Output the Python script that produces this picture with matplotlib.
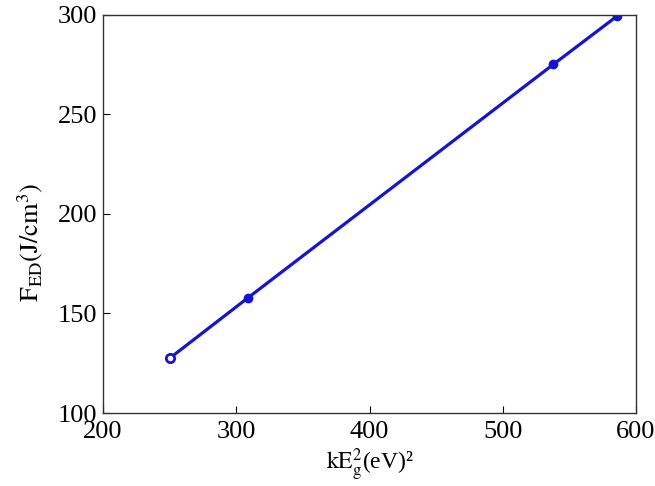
import matplotlib
matplotlib.use("Agg")
import matplotlib.pyplot as plt

# data
keg2 = [250, 309, 538, 585.5]
fed = [127.5, 158, 275.2, 299.3]

plt.rcParams["font.family"] = "Liberation Serif"
plt.rcParams["mathtext.fontset"] = "stix"

fig = plt.figure(figsize=(6.55, 4.86), dpi=100)
ax = fig.add_axes([103 / 655, 1 - 413 / 486, 533 / 655, 398 / 486])

blue = "#1414d2"
ax.plot(keg2, fed, color=blue, lw=2.3)
ax.plot(keg2[1:], fed[1:], "o", color=blue, ms=6)
ax.plot(keg2[:1], fed[:1], "o", mfc="white", mec=blue, mew=2, ms=6)

ax.set_xlim(200, 600)
ax.set_ylim(100, 300)
ax.set_xticks([200, 300, 400, 500, 600])
ax.set_yticks([100, 150, 200, 250, 300])
ax.tick_params(direction="in", length=5, labelsize=19, width=0.8)
ax.tick_params(axis="x", pad=6)
ax.tick_params(axis="y", pad=4)
for s in ax.spines.values():
    s.set_linewidth(1.0)
    s.set_color("#333333")

ax.set_xlabel(r"$\mathrm{kE_g^2}$(eV)²", fontsize=17, labelpad=2)
ax.set_ylabel(r"$\mathrm{F_{ED}(J/cm^3)}$", fontsize=19)
ax.yaxis.set_label_coords(-0.108, 0.43)

fig.savefig("out.png", dpi=100)
